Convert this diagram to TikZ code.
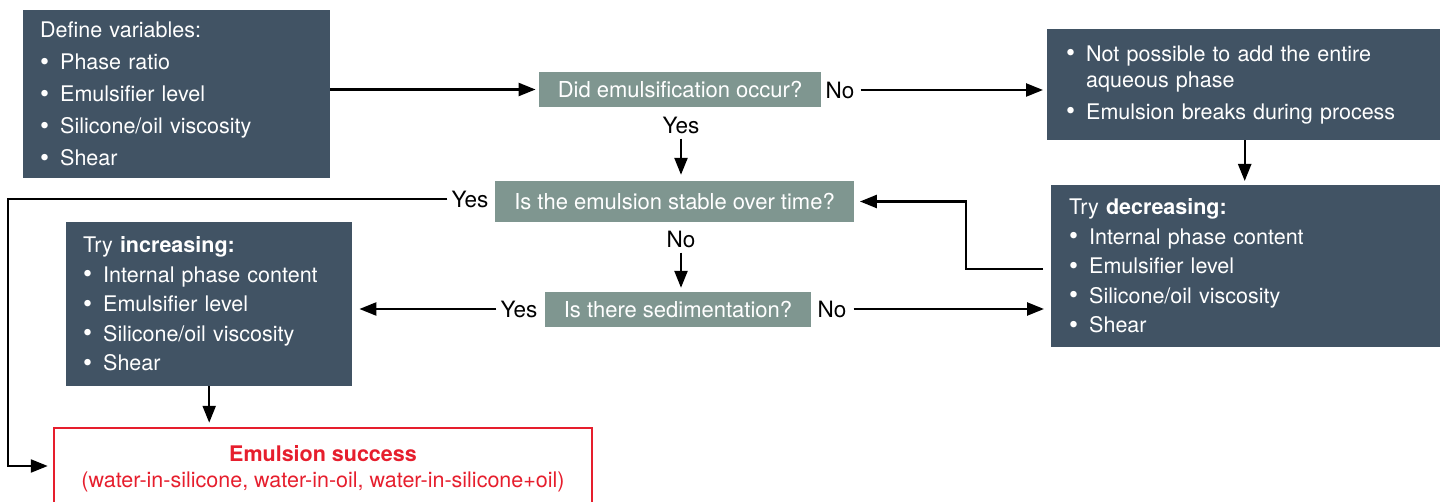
\documentclass[tikz,border=0pt]{standalone}
\usepackage{fontspec}
\setmainfont{TeX Gyre Heros}
\usetikzlibrary{arrows.meta}
\definecolor{slate}{RGB}{65,83,100}
\definecolor{sage}{RGB}{127,150,144}
\definecolor{okred}{RGB}{230,30,45}
\newcommand{\bul}{\makebox[20pt][l]{\raisebox{-0.5pt}{\scalebox{1.2}{\textbullet}}}}

\begin{document}
\begin{tikzpicture}[x=1pt, y=-1pt,
    varbox/.style={rectangle, fill=slate, text=white, anchor=north west, align=left, inner xsep=17pt, font=\fontsize{21.5}{29.5}\selectfont},
    question/.style={rectangle, fill=sage, text=white, inner xsep=19pt, font=\fontsize{22}{26}\selectfont},
    answer/.style={inner sep=0pt, font=\fontsize{22.5}{26}\selectfont},
    arrow/.style={line width=2.4pt, -{Triangle[length=17pt,width=13pt]}}]
   \useasboundingbox (0,0) rectangle (1440,502);

   \node[varbox, text width=273pt, minimum height=168pt, font=\fontsize{21.5}{32}\selectfont] (define) at (23,10) {Define variables:\\ \bul Phase ratio\\ \bul Emulsifier level\\ \bul Silicone/oil viscosity\\ \bul Shear};
   \node[question, minimum height=35pt] (emulsify) at (680,89.5) {Did emulsification occur?};
   \node[question, minimum height=41pt] (stable)   at (674.5,201.5) {Is the emulsion stable over time?};
   \node[question, minimum height=35pt] (sediment) at (678,309.5) {Is there sedimentation?};
   \node[varbox, text width=357pt, inner xsep=19pt, minimum height=111pt, font=\fontsize{21.5}{26}\selectfont] (fail) at (1047,29) {\bul Not possible to add the entire\\ \hspace*{20pt}aqueous phase\\[6pt] \bul Emulsion breaks during process};
   \node[varbox, text width=355pt, inner xsep=18pt, minimum height=162pt] (decrease) at (1051,185) {Try \textbf{decreasing:}\\ \bul Internal phase content\\ \bul Emulsifier level\\ \bul Silicone/oil viscosity\\ \bul Shear};
   \node[varbox, text width=252pt, minimum height=164pt] (increase) at (66,222) {Try \textbf{increasing:}\\ \bul Internal phase content\\ \bul Emulsifier level\\ \bul Silicone/oil viscosity\\ \bul Shear};
   \node[rectangle, draw=okred, line width=2.5pt, text=okred, minimum width=538pt, minimum height=82pt, align=center, font=\fontsize{21.5}{26}\selectfont] (success) at (323,469) {\textbf{Emulsion success}\\(water-in-silicone, water-in-oil, water-in-silicone+oil)};

   \node[answer] (no1)  at (840,90)  {No};
   \node[answer] (yes1) at (681,125) {Yes};
   \node[answer] (yes2) at (470,199) {Yes};
   \node[answer] (no2)  at (681,239) {No};
   \node[answer] (yes3) at (519,309) {Yes};
   \node[answer] (no3)  at (832,309) {No};
   \coordinate (corner) at (8,466);

   \draw[arrow, shorten >=3pt] (emulsify.west -| define.east) -- (emulsify.west);
   \draw[arrow, shorten <=6pt, shorten >=4pt] (no1.east) -- (no1.east -| fail.west);
   \draw[arrow, shorten <=5pt, shorten >=6pt] (yes1.south) -- (yes1.south |- stable.north);
   \draw[arrow, shorten <=5pt, shorten >=4pt] (no2.south) -- (no2.south |- sediment.north);
   \draw[arrow, shorten <=4pt, shorten >=7pt] (yes3.west) -- (yes3.west -| increase.east);
   \draw[arrow, shorten <=7pt, shorten >=7pt] (no3.east) -- (no3.east -| decrease.west);
   \draw[arrow, shorten >=4pt] (fail.south) -- (fail.south |- decrease.north);
   \draw[arrow, shorten <=8pt, shorten >=6pt] ([yshift=-3pt]decrease.west) -- ++(-85,0) |- (stable.east);
   \draw[arrow, shorten <=4pt, shorten >=5pt] (yes2.west) -| (corner) -- (corner -| success.west);
   \draw[arrow, shorten >=4pt] (increase.south) -- (increase.south |- success.north);
 \end{tikzpicture}
\end{document}
